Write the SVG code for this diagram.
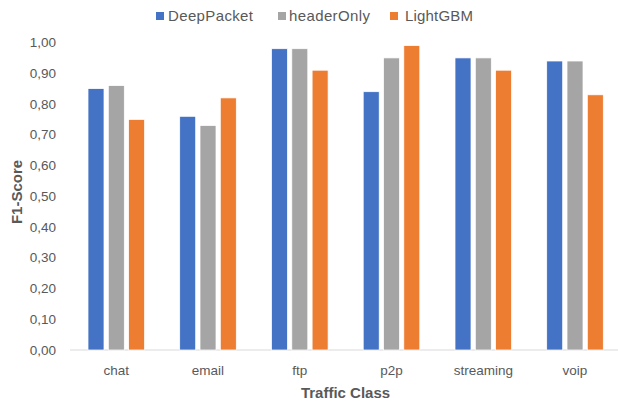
<svg xmlns="http://www.w3.org/2000/svg" width="618" height="407" viewBox="0 0 618 407">
<style>
text{font-family:"Liberation Sans",Arial,sans-serif;fill:#595959}
.tick{font-size:13.5px;text-anchor:end}
.cat{font-size:13.5px;text-anchor:middle}
.leg{font-size:15px}
.title{font-size:15px;font-weight:bold}
.b{fill:#4472C4;stroke:#fff;stroke-width:0.75}
.g{fill:#A5A5A5;stroke:#fff;stroke-width:0.75}
.o{fill:#ED7D31;stroke:#fff;stroke-width:0.75}
</style>
<rect width="618" height="407" fill="#fff"/>
<g id="legend">
<rect x="156" y="12" width="8" height="8" fill="#4472C4"/>
<text class="leg" x="168" y="21" textLength="85">DeepPacket</text>
<rect x="278" y="12" width="8" height="8" fill="#A5A5A5"/>
<text class="leg" x="289" y="21" textLength="81">headerOnly</text>
<rect x="390" y="12" width="8" height="8" fill="#ED7D31"/>
<text class="leg" x="405" y="21" textLength="68">LightGBM</text>
</g>
<g id="y-axis">
<text class="tick" x="56" y="47">1,00</text>
<text class="tick" x="56" y="78">0,90</text>
<text class="tick" x="56" y="108.5">0,80</text>
<text class="tick" x="56" y="139.3">0,70</text>
<text class="tick" x="56" y="170">0,60</text>
<text class="tick" x="56" y="200.8">0,50</text>
<text class="tick" x="56" y="231.5">0,40</text>
<text class="tick" x="56" y="262.3">0,30</text>
<text class="tick" x="56" y="293">0,20</text>
<text class="tick" x="56" y="323.8">0,10</text>
<text class="tick" x="56" y="354.5">0,00</text>
<text class="title" transform="translate(22,192) rotate(-90)" text-anchor="middle">F1-Score</text>
</g>
<g id="x-axis">
<line x1="70" y1="350" x2="618" y2="350" stroke="#D9D9D9" stroke-width="1"/>
<text class="cat" x="116.3" y="375">chat</text>
<text class="cat" x="208" y="375">email</text>
<text class="cat" x="299.8" y="375">ftp</text>
<text class="cat" x="391.5" y="375">p2p</text>
<text class="cat" x="483.3" y="375">streaming</text>
<text class="cat" x="575" y="375">voip</text>
<text class="title" x="345.5" y="398" text-anchor="middle">Traffic Class</text>
</g>
<g id="series-deeppacket">
<rect class="b" x="88" y="88.6" width="16" height="261.4"/>
<rect class="b" x="179.7" y="116.3" width="16" height="233.7"/>
<rect class="b" x="271.5" y="48.7" width="16" height="301.3"/>
<rect class="b" x="363.2" y="91.7" width="16" height="258.3"/>
<rect class="b" x="455" y="57.9" width="16" height="292.1"/>
<rect class="b" x="546.7" y="61" width="16" height="289"/>
</g>
<g id="series-headeronly">
<rect class="g" x="108.3" y="85.6" width="16" height="264.4"/>
<rect class="g" x="200" y="125.5" width="16" height="224.5"/>
<rect class="g" x="291.8" y="48.7" width="16" height="301.3"/>
<rect class="g" x="383.5" y="57.9" width="16" height="292.1"/>
<rect class="g" x="475.3" y="57.9" width="16" height="292.1"/>
<rect class="g" x="567" y="61" width="16" height="289"/>
</g>
<g id="series-lightgbm">
<rect class="o" x="128.6" y="119.4" width="16" height="230.6"/>
<rect class="o" x="220.3" y="97.9" width="16" height="252.1"/>
<rect class="o" x="312.1" y="70.2" width="16" height="279.8"/>
<rect class="o" x="403.8" y="45.6" width="16" height="304.4"/>
<rect class="o" x="495.6" y="70.2" width="16" height="279.8"/>
<rect class="o" x="587.3" y="94.8" width="16" height="255.2"/>
</g>
</svg>
